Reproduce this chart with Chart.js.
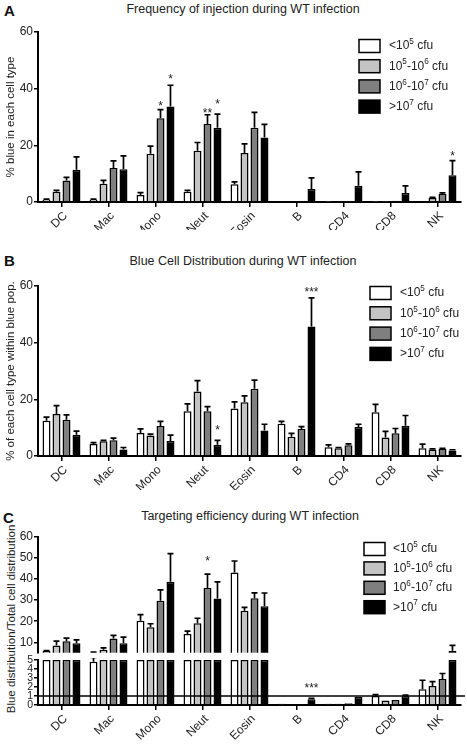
<!DOCTYPE html>
<html>
<head>
<meta charset="utf-8">
<script src="https://cdn.jsdelivr.net/npm/chart.js@4.4.0/dist/chart.umd.min.js"></script>
<style>
body { margin: 0; background: #fff; width: 467px; height: 750px; position: relative; overflow: hidden; font-family: "Liberation Sans", Arial, sans-serif; }
canvas { position: absolute; left: 0; }
.title { position: absolute; left: 0; width: 486px; text-align: center; font-size: 12.5px; color: #222; }
.panel { position: absolute; font-weight: bold; font-size: 15px; color: #111; }
.ylab { position: absolute; font-size: 11.5px; color: #222; white-space: nowrap; transform: translate(-50%, -50%) rotate(-90deg); }
</style>
</head>
<body>
<div class="panel" style="left:4px;top:2px">A</div>
<div class="title" style="top:2px">Frequency of injection during WT infection</div>
<canvas id="chartA" width="467" height="230" style="top:0px"></canvas>

<div class="panel" style="left:4px;top:252px">B</div>
<div class="title" style="top:254px">Blue Cell Distribution during WT infection</div>
<canvas id="chartB" width="467" height="250" style="top:240px"></canvas>

<div class="panel" style="left:3px;top:509px">C</div>
<div class="title" style="top:509px;width:500px">Targeting efficiency during WT infection</div>
<div class="ylab" style="left:11px;top:619px">Blue distribution/Total cell distribution</div>
<canvas id="chartC1" width="467" height="161" style="top:500px"></canvas>
<canvas id="chartC2" width="467" height="102" style="top:648px"></canvas>
<canvas id="chartC2extra" width="467" height="102" style="top:648px"></canvas>

<script>
const FONT = '"Liberation Sans", Arial, sans-serif';

// categories and groups
let cellTypes = ['DC', 'Mac', 'Mono', 'Neut', 'Eosin', 'B', 'CD4', 'CD8', 'NK'];
let doseLabels = ['<10⁵ cfu', '10⁵-10⁶ cfu', '10⁶-10⁷ cfu', '>10⁷ cfu'];
let doseColors = ['#ffffff', '#c4c4c4', '#7f7f7f', '#000000'];

// A - % blue in each cell type (mean, SEM)
let freqLow = [0.8, 0.8, 2.5, 3.6, 6.3, 0, 0.1, 0.1, 0.2];
let freqMid1 = [3.6, 6.4, 17, 18.1, 17.3, 0, 0.2, 0.1, 1.4];
let freqMid2 = [7.6, 12, 29.6, 27.5, 26.2, 0, 0.1, 0.4, 2.8];
let freqHigh = [11.4, 11.6, 33.7, 26.2, 22.8, 4.6, 5.7, 3.2, 9.4];
let freqLowErr = [0.2, 0.2, 0.8, 0.5, 0.8, 0, 0, 0, 0];
let freqMid1Err = [0.5, 1.2, 2.7, 2.9, 3.2, 0, 0, 0, 0.2];
let freqMid2Err = [1.1, 2.5, 3, 3.3, 5.4, 0, 0, 0, 0.4];
let freqHighErr = [4.5, 4.7, 7.5, 4.8, 4.6, 3.9, 4.9, 2.5, 5.2];
let freqStars = [[2, 2, 35.2, '*'], [2, 3, 44.6, '*'], [3, 2, 32.5, '**'], [3, 3, 35.8, '*'], [8, 3, 17.5, '*']];

// B - % of each cell type within blue pop.
let distLow = [12.4, 4.2, 8.1, 15.8, 16.8, 11.4, 3.1, 15.4, 2.7];
let distMid1 = [14.8, 5.2, 7.2, 22.8, 19, 6.8, 2.7, 6.5, 2.3];
let distMid2 = [12.8, 5.6, 10.6, 15.8, 23.7, 9.5, 3.8, 8, 2.5];
let distHigh = [7.5, 2.3, 5.3, 4, 9, 45.7, 10.2, 10.7, 1.9];
let distLowErr = [1.3, 0.5, 1.5, 2.6, 2.3, 0.8, 0.8, 2.8, 1.5];
let distMid1Err = [3, 0.3, 0.5, 3.8, 2.2, 1.2, 0.3, 2.2, 0.2];
let distMid2Err = [1.7, 0.7, 1.6, 1.6, 3.1, 0.9, 0.5, 1.7, 0.2];
let distHighErr = [1.3, 0.7, 2.1, 1.5, 2.2, 10.1, 1, 3.6, 0.3];
let distStars = [[3, 3, 10.2, '*'], [5, 3, 58.9, '***']];

// C - blue distribution / total cell distribution (broken axis)
let targLow = [5.8, 4.8, 20.2, 13.9, 43.1, 0.15, 0.15, 1.0, 1.75];
let targMid1 = [8.5, 6.5, 17.1, 19, 25, 0.1, 0.15, 0.5, 2.1];
let targMid2 = [10.5, 11.8, 29.7, 35.8, 30.9, 0.1, 0.2, 0.55, 2.9];
let targHigh = [9.5, 9.5, 38.7, 30.8, 27.1, 0.63, 0.9, 1.0, 6];
let targLowErr = [0.3, 0.5, 2.9, 1.4, 5.5, 0, 0, 0.15, 1];
let targMid1Err = [2, 0.8, 1.7, 2.4, 1.6, 0, 0, 0, 0.5];
let targMid2Err = [1.5, 1.5, 5.2, 6.6, 2.6, 0, 0, 0, 0.6];
let targHighErr = [1.6, 2.9, 13.4, 7.9, 6.3, 0.1, 0, 0.1, 2.5];
let targStarsTop = [[3, 2, 50.2, '*']];
let targStarsBottom = [[5, 3, 2.3, '***']];
let targBreak = 5;
let targRefLine = 1;
let targTopTicks = [10, 20, 30, 40, 50, 60];

// draws text, turning unicode superscript digits into small raised digits
function drawRich(ctx, text, x, y, size) {
  let sup = '⁰¹²³⁴⁵⁶⁷⁸⁹';
  let cx = x;
  for (let ch of text) {
    let k = sup.indexOf(ch);
    if (k >= 0) {
      ctx.font = (size * 0.68) + 'px ' + FONT;
      ctx.fillText(String(k), cx, y - size * 0.33);
      cx += ctx.measureText(String(k)).width;
    } else {
      ctx.font = size + 'px ' + FONT;
      ctx.fillText(ch, cx, y);
      cx += ctx.measureText(ch).width;
    }
  }
}

// error bar for one bar, clipped to the plot area
function drawErrorBars(chart, ctx) {
  let a = chart.chartArea;
  let y = chart.scales.y;
  ctx.save();
  ctx.beginPath();
  ctx.rect(a.left, a.top - 2, a.right - a.left, a.bottom - a.top + 2);
  ctx.clip();
  ctx.strokeStyle = '#000';
  ctx.lineWidth = 1.7;
  chart.data.datasets.forEach((ds, i) => {
    chart.getDatasetMeta(i).data.forEach((bar, j) => {
      let e = ds.errors[j];
      let v = ds.means[j];
      if (!e || v + e < y.min || v > y.max) return;
      let y0 = y.getPixelForValue(v);
      let y1 = y.getPixelForValue(Math.min(v + e, y.max + 1));
      ctx.beginPath();
      ctx.moveTo(bar.x, y0);
      ctx.lineTo(bar.x, y1);
      ctx.moveTo(bar.x - 3, y1);
      ctx.lineTo(bar.x + 3, y1);
      ctx.stroke();
    });
  });
  ctx.restore();
}

function drawStars(chart, ctx, items) {
  ctx.save();
  ctx.fillStyle = '#222';
  ctx.font = '12px ' + FONT;
  ctx.textAlign = 'center';
  ctx.textBaseline = 'middle';
  items.forEach(([c, d, v, txt]) => {
    let bar = chart.getDatasetMeta(d).data[c];
    ctx.fillText(txt, bar.x, chart.scales.y.getPixelForValue(v) + 4);
  });
  ctx.restore();
}

let errorBars = {
  id: 'errorBars',
  afterDatasetsDraw(chart) { drawErrorBars(chart, chart.ctx); }
};

let stars = {
  id: 'stars',
  afterDatasetsDraw(chart, args, opts) { drawStars(chart, chart.ctx, opts.items || []); }
};

let boxLegend = {
  id: 'boxLegend',
  afterDraw(chart, args, opts) {
    if (!opts.x) return;
    let ctx = chart.ctx;
    ctx.save();
    chart.data.datasets.forEach((ds, i) => {
      let cy = opts.y + i * opts.gap;
      ctx.fillStyle = ds.backgroundColor;
      ctx.fillRect(opts.x, cy - 6.5, 21, 13);
      ctx.strokeStyle = '#000';
      ctx.lineWidth = 1.5;
      ctx.strokeRect(opts.x, cy - 6.5, 21, 13);
      ctx.fillStyle = '#222';
      ctx.textBaseline = 'middle';
      ctx.textAlign = 'left';
      drawRich(ctx, ds.label, opts.textX, cy, 12);
    });
    ctx.restore();
  }
};

// slanted category names under the x axis
let slantLabels = {
  id: 'slantLabels',
  afterDraw(chart, args, opts) {
    if (!opts.show) return;
    let ctx = chart.ctx;
    let x = chart.scales.x;
    ctx.save();
    ctx.font = '12px ' + FONT;
    ctx.fillStyle = '#222';
    ctx.textAlign = 'right';
    ctx.textBaseline = 'middle';
    chart.data.labels.forEach((lab, i) => {
      ctx.save();
      ctx.translate(x.getPixelForValue(i) + 4, x.top + 12);
      ctx.rotate(-Math.PI / 4);
      ctx.fillText(lab, 0, 0);
      ctx.restore();
    });
    ctx.restore();
  }
};

function makeDatasets(series, errs, cap, clipBottom) {
  return series.map((data, i) => {
    let ds = {
      label: doseLabels[i],
      data: cap ? data.map(v => Math.min(v, cap)) : data,
      means: data,
      errors: errs[i],
      backgroundColor: doseColors[i],
      borderColor: '#000',
      borderWidth: 1.5,
      categoryPercentage: 0.85,
      barPercentage: 0.8
    };
    if (clipBottom) ds.clip = { left: 10, right: 10, top: 10, bottom: 0 };
    return ds;
  });
}

function makeChart(id, cfg) {
  let xAxis = {
    display: cfg.showX,
    offset: true,
    grid: { display: true, drawOnChartArea: false, offset: false, color: '#000', lineWidth: 1.5, tickLength: 5 },
    border: { color: '#000', width: 2 },
    ticks: { display: false },
    afterFit: (s) => { s.height = cfg.xHeight; }
  };
  let yAxis = {
    min: cfg.min,
    max: cfg.max,
    grid: { display: true, drawOnChartArea: false, color: '#000', lineWidth: 1.5, tickLength: 4 },
    border: { color: '#000', width: 2 },
    ticks: { color: '#222', font: { size: cfg.tickSize || 12, family: FONT }, padding: 1, stepSize: cfg.step, autoSkip: false },
    title: { display: !!cfg.yTitle, text: cfg.yTitle || '', color: '#222', font: { size: 11.5, family: FONT }, padding: { top: 4, bottom: 0 } },
    afterFit: (s) => { s.width = 38; }
  };
  if (cfg.ticks) {
    yAxis.afterBuildTicks = (s) => { s.ticks = cfg.ticks.map(v => ({ value: v })); };
  }
  let pluginOpts = { legend: { display: false }, tooltip: { enabled: false }, slantLabels: { show: cfg.showX } };
  let plugins = [slantLabels];
  if (!cfg.plain) {
    pluginOpts.stars = { items: cfg.stars || [] };
    pluginOpts.boxLegend = cfg.legend || {};
    plugins = [errorBars, stars, boxLegend, slantLabels];
  }
  return new Chart(document.getElementById(id), {
    type: 'bar',
    data: { labels: cellTypes, datasets: makeDatasets(cfg.series, cfg.errs, cfg.cap, cfg.clipBottom) },
    options: {
      responsive: false,
      animation: false,
      layout: { padding: cfg.padding },
      scales: { x: xAxis, y: yAxis },
      plugins: pluginOpts
    },
    plugins: plugins
  });
}

makeChart('chartA', {
  series: [freqLow, freqMid1, freqMid2, freqHigh],
  errs: [freqLowErr, freqMid1Err, freqMid2Err, freqHighErr],
  min: 0, max: 60, step: 20,
  yTitle: '% blue in each cell type',
  showX: true, xHeight: 28,
  padding: { top: 32, right: 6, left: 0, bottom: 0 },
  stars: freqStars,
  legend: { x: 359, y: 46, gap: 20.2, textX: 389 }
});

// lower part of the broken axis (0 to 5); bars above the break stop at the break
let lowerC = makeChart('chartC2', {
  series: [targLow, targMid1, targMid2, targHigh],
  errs: [targLowErr, targMid1Err, targMid2Err, targHighErr],
  cap: targBreak,
  plain: true,
  min: 0, max: targBreak, step: 1, tickSize: 10.5,
  showX: true, xHeight: 45,
  padding: { top: 12, right: 6, left: 0, bottom: 0 }
});

// reference line, error bars and stars of the lower part, on their own layer
let extra = document.getElementById('chartC2extra').getContext('2d');
let lowArea = lowerC.chartArea;
let refY = lowerC.scales.y.getPixelForValue(targRefLine);
extra.strokeStyle = '#000';
extra.lineWidth = 1.5;
extra.beginPath();
extra.moveTo(lowArea.left, refY);
extra.lineTo(lowArea.right + 4, refY);
extra.stroke();
drawErrorBars(lowerC, extra);
drawStars(lowerC, extra, targStarsBottom);

makeChart('chartB', {
  series: [distLow, distMid1, distMid2, distHigh],
  errs: [distLowErr, distMid1Err, distMid2Err, distHighErr],
  min: 0, max: 60, step: 20,
  yTitle: '% of each cell type within blue pop.',
  showX: true, xHeight: 34,
  padding: { top: 46, right: 6, left: 0, bottom: 0 },
  stars: distStars,
  legend: { x: 370, y: 53, gap: 20.3, textX: 400 }
});

// upper part of the broken axis (5 to 60)
makeChart('chartC1', {
  series: [targLow, targMid1, targMid2, targHigh],
  errs: [targLowErr, targMid1Err, targMid2Err, targHighErr],
  clipBottom: true,
  min: targBreak, max: 60, ticks: targTopTicks,
  showX: false, xHeight: 0,
  padding: { top: 37, right: 6, left: 0, bottom: 8 },
  stars: targStarsTop,
  legend: { x: 364, y: 49, gap: 19.4, textX: 393 }
});
</script>
</body>
</html>
